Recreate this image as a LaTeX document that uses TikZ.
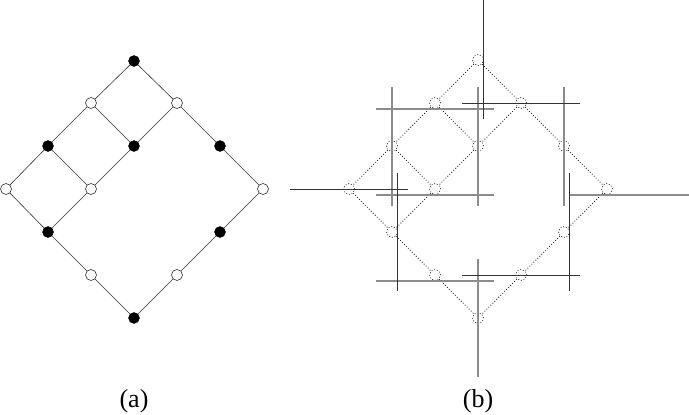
\documentclass[tikz,border=0pt]{standalone}
\usepackage{fontspec}
\setmainfont{Liberation Serif}
\begin{document}
\begin{tikzpicture}[x=1pt,y=-1pt,
  bnode/.style={circle,draw=black,fill=black,inner sep=0pt,minimum size=11pt},
  wnode/.style={circle,draw=black!80,fill=white,line width=0.6pt,inner sep=0pt,minimum size=11pt},
  dnode/.style={circle,draw=black!85,dotted,line width=0.8pt,inner sep=0pt,minimum size=11pt},
  aedge/.style={draw=black!80,line width=0.6pt},
  bedge/.style={draw=black!90,dotted,line width=0.8pt},
  dline/.style={draw=black!80,line width=0.8pt},
  gline/.style={draw=black!45,line width=1.3pt},
  lbl/.style={font=\fontsize{26}{26}\selectfont,anchor=base}]
\useasboundingbox (0,0) rectangle (689,415);
% ---- (a) ----
\node[bnode] (T) at (134,61) {};
\node[wnode] (A1) at (91,103) {};
\node[wnode] (A2) at (177,103) {};
\node[bnode] (B1) at (48,146) {};
\node[bnode] (B2) at (134,146) {};
\node[bnode] (B3) at (220,146) {};
\node[wnode] (C1) at (6,189) {};
\node[wnode] (C2) at (91,189) {};
\node[wnode] (C3) at (263,189) {};
\node[bnode] (D1) at (48,232) {};
\node[bnode] (D2) at (220,232) {};
\node[wnode] (E1) at (91,275) {};
\node[wnode] (E2) at (177,275) {};
\node[bnode] (Bo) at (134,318) {};
\foreach \u/\v in {T/A1,T/A2,A1/B1,A1/B2,A2/B2,A2/B3,B1/C1,B1/C2,B2/C2,B3/C3,C1/D1,C2/D1,C3/D2,D1/E1,D2/E2,E1/Bo,E2/Bo}
  \path[aedge] (\u) -- (\v);
% ---- (b) ----
\node[dnode] (t) at (478,60) {};
\node[dnode] (a1) at (435,103) {};
\node[dnode] (a2) at (521,103) {};
\node[dnode] (b1) at (392,146) {};
\node[dnode] (b2) at (478,146) {};
\node[dnode] (b3) at (564,146) {};
\node[dnode] (c1) at (349,189) {};
\node[dnode] (c2) at (435,189) {};
\node[dnode] (c3) at (607,189) {};
\node[dnode] (d1) at (392,232) {};
\node[dnode] (d2) at (564,232) {};
\node[dnode] (e1) at (435,275) {};
\node[dnode] (e2) at (521,275) {};
\node[dnode] (bo) at (478,318) {};
\foreach \u/\v in {t/a1,t/a2,a1/b1,a1/b2,a2/b2,a2/b3,b1/c1,b1/c2,b2/c2,b3/c3,c1/d1,c2/d1,c3/d2,d1/e1,d2/e2,e1/bo,e2/bo}
  \path[bedge] (\u) -- (\v);
% crossing lines
\path[gline] (376,109) -- (494,109);
\path[gline] (392,87) -- (392,206);
\path[gline] (478,87) -- (478,206);
\path[gline] (564,87) -- (564,206);
\path[gline] (376,195) -- (494,195);
\path[gline] (569,195) -- (689,195);
\path[gline] (376,281) -- (494,281);
\path[gline] (478,259) -- (478,377);
\path[dline] (483,0) -- (483,119);
\path[dline] (462,103) -- (580,103);
\path[dline] (290,189) -- (408,189);
\path[dline] (397,173) -- (397,291);
\path[dline] (569,173) -- (569,291);
\path[dline] (462,275) -- (580,275);
% labels
\node[lbl] (la) at (134,407) {(a)};
\node[lbl] (lb) at (478,407) {(b)};
\end{tikzpicture}
\end{document}
